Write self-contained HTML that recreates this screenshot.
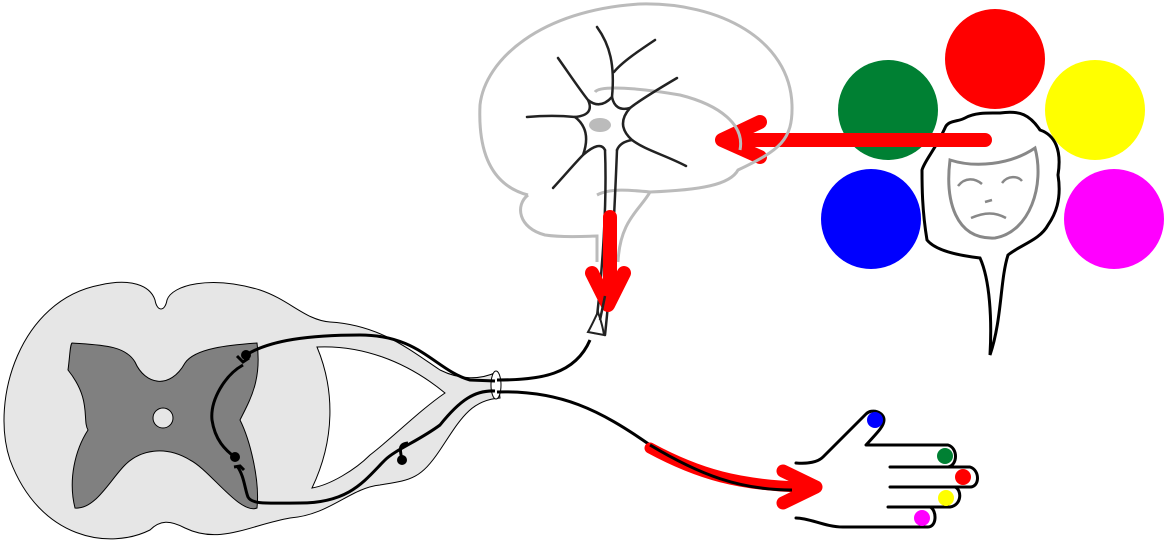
<!DOCTYPE html>
<html><head><meta charset="utf-8"><style>html,body{margin:0;padding:0;background:#fff}svg{display:block}</style></head>
<body>
<svg width="1164" height="548" viewBox="0 0 1164 548" xmlns="http://www.w3.org/2000/svg">
<circle cx="995" cy="59" r="50" fill="#ff0000"/>
<circle cx="1095" cy="110" r="50" fill="#ffff00"/>
<circle cx="888" cy="110" r="50" fill="#008033"/>
<circle cx="871" cy="219" r="50" fill="#0000ff"/>
<circle cx="1114" cy="219" r="50" fill="#ff00ff"/>
<path d="M945,128 C948,120 958,122 965,118 C975,112 990,113 1000,113 C1020,110 1030,115 1040,130 C1055,135 1062,150 1058,175 C1062,200 1055,215 1048,225 C1040,240 1020,245 1008,255 C1000,280 1002,320 990,355 C992,320 990,280 980,258 C955,255 935,250 927,240 C922,210 922,185 922,170 C925,160 935,150 945,128 Z" fill="#fff" stroke="#000" stroke-width="3"/>
<path d="M950,160 C975,168 1010,165 1035,148 C1045,185 1030,232 995,238 C955,240 945,200 950,160 Z" fill="#fff" stroke="#888" stroke-width="3"/>
<path d="M958,186 C965,177 975,178 982,184 M1002,183 C1008,175 1018,176 1022,181" fill="none" stroke="#888" stroke-width="2.5"/>
<path d="M985,202 L992,200 M971,218 C985,212 995,212 1006,218" fill="none" stroke="#888" stroke-width="2.5"/>
<line x1="985" y1="140" x2="745" y2="140" stroke="#f00" stroke-width="14" stroke-linecap="round"/>
<path d="M760,122 L722,140 L760,157" fill="none" stroke="#f00" stroke-width="14" stroke-linejoin="round" stroke-linecap="round"/>
<g fill="none" stroke="#bbb" stroke-width="3">
<path d="M528,195 C490,185 478,150 480,105 C485,60 540,10 640,4 C720,2 790,40 792,105 C793,140 780,150 738,170 C730,185 700,190 650,192 C640,210 620,220 618,262"/>
<path d="M528,195 C515,205 518,228 545,235 C565,238 590,236 597,236 L597,262"/>
<path d="M595,92 C600,85 640,88 680,95 C720,105 745,125 740,150"/>
<path d="M597,195 C610,188 630,190 650,192"/>
</g>
<g fill="none" stroke="#222" stroke-width="2.5" stroke-linecap="round">
<path d="M575,117 Q595,115 588,100 Q600,110 612,97 Q615,112 630,108 Q615,125 632,140 Q620,142 617,150 M605,150 Q600,140 583,155 Q592,130 575,117" />
<path d="M527,117 C550,115 565,116 575,117"/>
<path d="M558,58 C570,75 580,90 588,100"/>
<path d="M597,27 C610,45 615,65 612,97"/>
<path d="M655,40 C640,50 622,62 614,72"/>
<path d="M677,78 C660,88 640,100 630,108"/>
<path d="M686,166 C665,155 645,150 632,140"/>
<path d="M553,188 C565,175 575,163 583,155"/>
<path d="M605,150 C607,200 603,270 595,333"/>
<path d="M617,150 C615,200 612,270 605,335"/>
</g>
<ellipse cx="600" cy="125" rx="11" ry="7" fill="#bbb"/>
<line x1="610" y1="217" x2="610" y2="290" stroke="#f00" stroke-width="14" stroke-linecap="round"/>
<path d="M592,273 L608,305 L624,273" fill="none" stroke="#f00" stroke-width="14" stroke-linejoin="round" stroke-linecap="round"/>
<path d="M598,312 C599,316 602,322 604,335 L588,332 C592,325 595,318 598,312 Z" fill="#fff" stroke="#222" stroke-width="2"/>
<line x1="605" y1="296" x2="600" y2="320" stroke="#222" stroke-width="2.5"/>
<path d="M100,285 C130,278 150,285 155,300 C157,312 165,312 167,300 C172,285 210,275 260,290 C290,300 305,320 330,322 C380,325 410,350 440,370 C460,380 480,380 497,372 L500,398 C470,400 460,420 440,450 C420,480 410,480 380,485 C350,488 330,515 290,518 C250,525 220,545 185,528 C170,520 160,520 150,530 C110,550 40,540 10,460 C-10,400 20,300 100,285 Z" fill="#e6e6e6" stroke="#000" stroke-width="1"/>
<path d="M317,347 C360,345 405,360 445,393 C420,410 390,440 370,455 C355,470 330,485 312,488 C335,440 335,390 317,347 Z" fill="#fff" stroke="#000" stroke-width="1"/>
<ellipse cx="496" cy="385" rx="5" ry="14" fill="#fff" stroke="#000" stroke-width="1"/>
<path d="M72,343 C100,345 125,345 135,362 C145,385 170,390 185,363 C195,348 230,345 257,343 C262,380 250,400 240,420 C250,440 260,480 257,508 C240,515 210,470 190,460 C165,445 140,450 125,465 C110,480 95,510 75,508 C68,480 75,450 88,430 C82,420 92,400 68,370 C70,355 70,345 72,343 Z" fill="#808080" stroke="#000" stroke-width="1"/>
<circle cx="163" cy="418" r="10" fill="#e6e6e6" stroke="#000" stroke-width="1"/>
<g fill="none" stroke="#000" stroke-width="3">
<path d="M246,355 C270,340 310,335 360,335 C420,335 435,370 470,380 L495,381"/>
<path d="M243,365 C225,375 210,400 212,420 C215,440 225,450 236,458"/>
<path d="M237,466 C244,475 245,490 248,497 C252,505 270,503 300,503 C350,503 365,480 385,460 C395,450 420,440 440,425 C460,400 475,390 495,391"/>
<path d="M402,460 C400,450 398,444 408,443"/>
<path d="M237,356 L243,362 L249,358 M234,467 L240,466 L244,470"/>
</g>
<circle cx="246" cy="355" r="5" fill="#000"/>
<circle cx="235" cy="457" r="5" fill="#000"/>
<circle cx="402" cy="460" r="5" fill="#000"/>
<path d="M497,380 C540,380 575,375 590,340" fill="none" stroke="#000" stroke-width="3"/>
<path d="M497,392 C560,390 600,410 650,445" fill="none" stroke="#000" stroke-width="3"/>
<path d="M650,448 C700,475 740,485 800,487" fill="none" stroke="#f00" stroke-width="11" stroke-linecap="round"/>
<path d="M783,471 L816,487 L783,503" fill="none" stroke="#f00" stroke-width="13" stroke-linejoin="round" stroke-linecap="round"/>
<path d="M650,445 C700,475 740,490 792,490" fill="none" stroke="#000" stroke-width="3"/>
<g fill="none" stroke="#000" stroke-width="3" stroke-linecap="round" stroke-linejoin="round">
<path d="M796,463 C808,464 818,462 823,457 L866,414 C872,408 884,412 884,420 C884,426 878,432 866,445 L948,445 C958,448 958,465 948,467 L970,467 C980,470 980,487 970,487 L955,487 C962,490 962,505 950,507 L930,507 C937,510 937,527 928,527 L843,527 C825,527 810,518 796,518"/>
<path d="M890,467 L948,467 M890,487 L955,487 M888,507 L930,507"/>
</g>
<circle cx="875" cy="420" r="8" fill="#0000ff"/>
<circle cx="945" cy="456" r="8" fill="#008033"/>
<circle cx="963" cy="477" r="8" fill="#ff0000"/>
<circle cx="946" cy="498" r="8" fill="#ffff00"/>
<circle cx="922" cy="518" r="8" fill="#ff00ff"/>
</svg>
</body></html>
